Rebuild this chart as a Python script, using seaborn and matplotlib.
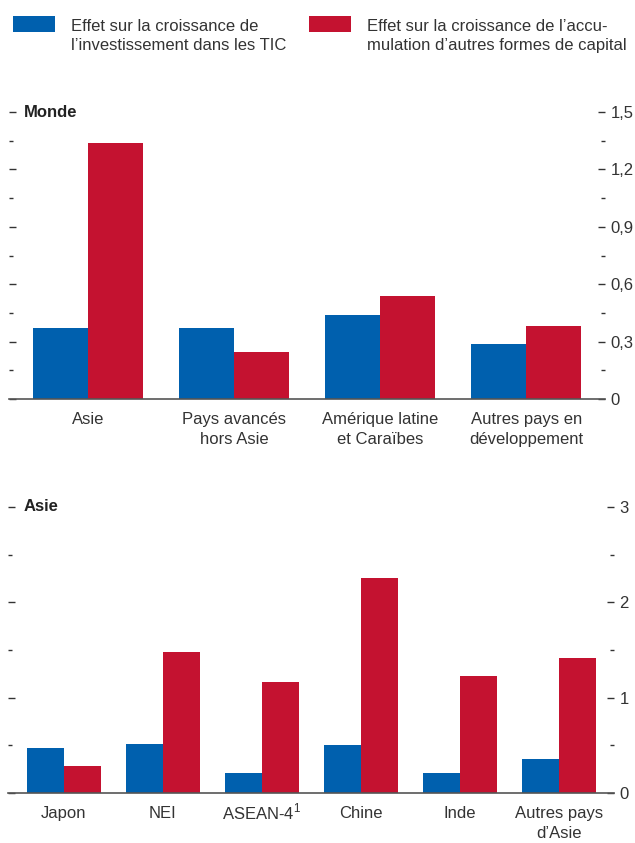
import seaborn as sns
import pandas as pd
import matplotlib.pyplot as plt
from matplotlib.ticker import MultipleLocator, FuncFormatter
from matplotlib.legend_handler import HandlerPatch
from matplotlib.patches import Rectangle
from matplotlib.transforms import ScaledTranslation

# series labels
serie_tic = "Effet sur la croissance de\nl\u2019investissement dans les TIC"
serie_cap = "Effet sur la croissance de l\u2019accu-\nmulation d\u2019autres formes de capital"

# Monde panel
monde_regions = ["Asie", "Pays avanc\u00e9s\nhors Asie", "Am\u00e9rique latine\net Cara\u00efbes",
                 "Autres pays en\nd\u00e9veloppement"]
monde_tic = [0.37, 0.37, 0.44, 0.29]
monde_cap = [1.34, 0.245, 0.54, 0.38]

# Asie panel
asie_regions = ["Japon", "NEI", "ASEAN-4$^{\\mathregular{1}}$", "Chine", "Inde",
                "Autres pays\nd\u2019Asie"]
asie_tic = [0.47, 0.51, 0.21, 0.50, 0.21, 0.36]
asie_cap = [0.28, 1.48, 1.16, 2.26, 1.23, 1.42]

blue = "#0060ae"
red = "#c41230"
txt = "#333333"

sns.set_style("white")
plt.rcParams['font.family'] = ['Liberation Sans', 'DejaVu Sans']


def make_df(regions, tic, cap):
    return pd.DataFrame({
        'region': regions * 2,
        'valeur': tic + cap,
        'serie': [serie_tic] * len(regions) + [serie_cap] * len(regions),
    })


def fmt(v, pos):
    return ("%g" % round(v, 2)).replace(".", ",")


# legend patch aligned with the first line of its label
def top_patch(legend, orig_handle, xdescent, ydescent, width, height, fontsize):
    return Rectangle((-xdescent, -ydescent + 0.63 * fontsize), width, 0.96 * fontsize)


fig = plt.figure(figsize=(6.35, 8.43), dpi=100)
ax1 = fig.add_axes([0.0142, 0.5267, 0.9386, 0.3404])
ax2 = fig.add_axes([0.0126, 0.0593, 0.9543, 0.3393])

panels = [
    (ax1, make_df(monde_regions, monde_tic, monde_cap), "Monde", 1.5, 0.3, (-0.54, 3.54)),
    (ax2, make_df(asie_regions, asie_tic, asie_cap), "Asie", 3, 1, (-0.565, 5.555)),
]

for ax, df, titre, ymax, step, xl in panels:
    sns.barplot(data=df, x='region', y='valeur', hue='serie', palette=[blue, red],
                width=0.75, saturation=1, linewidth=0, ax=ax, legend=True)
    ax.get_legend().remove()
    ax.set_ylim(0, ymax)
    ax.set_xlim(*xl)
    ax.set_xlabel("")
    ax.set_ylabel("")
    for s in ["top", "left", "right"]:
        ax.spines[s].set_visible(False)
    ax.spines["bottom"].set_color("#555555")
    ax.spines["bottom"].set_linewidth(1.2)
    ax.yaxis.set_major_locator(MultipleLocator(step))
    ax.yaxis.set_minor_locator(MultipleLocator(step / 2))
    ax.yaxis.set_major_formatter(FuncFormatter(fmt))
    ax.tick_params(axis='y', which='both', left=True, right=True, labelleft=False,
                   labelright=True, direction='in', color='#333333', labelsize=12,
                   labelcolor=txt, pad=4)
    ax.tick_params(axis='y', which='major', length=5, width=1)
    ax.tick_params(axis='y', which='minor', length=3, width=1)
    ax.tick_params(axis='x', bottom=False, labelsize=12, labelcolor=txt, pad=6)
    for lab in ax.get_xticklabels():
        lab.set_multialignment('center')
        lab.set_linespacing(1.4)
        if '$' in lab.get_text():
            lab.set_transform(lab.get_transform() + ScaledTranslation(0, 3.5 / 72, fig.dpi_scale_trans))
    ax.text(0.025, 1.0, titre, transform=ax.transAxes, va='center', ha='left',
            fontsize=12, fontweight='bold', color='#222222')

handles, labels = ax1.get_legend_handles_labels()
for h, lab, x0 in zip(handles, labels, [13, 309]):
    leg = fig.legend([h], [lab], loc='upper left', bbox_to_anchor=(x0 / 635, 1 - 19 / 843),
                     frameon=False, fontsize=12, labelcolor=txt, handlelength=2.5,
                     handleheight=0.7, handletextpad=1.0, borderpad=0, borderaxespad=0,
                     handler_map={type(h): HandlerPatch(patch_func=top_patch)})
    for t in leg.get_texts():
        t.set_linespacing(1.35)

fig.savefig("out.png", dpi=100)
